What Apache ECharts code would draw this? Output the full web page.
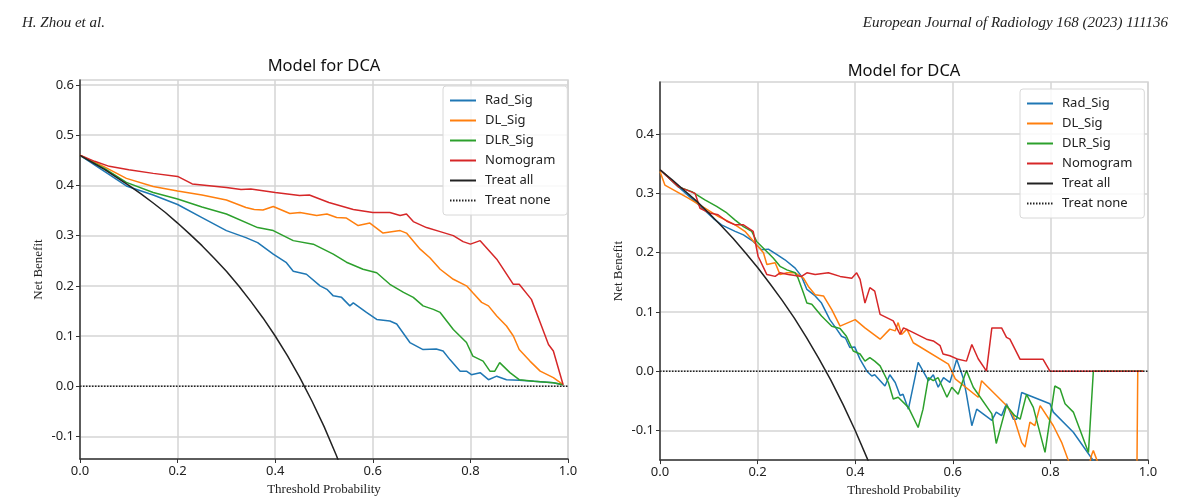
<!DOCTYPE html>
<html>
<head>
    <meta charset="utf-8">
    <title>Model for DCA</title>
    <script src="https://cdn.jsdelivr.net/npm/echarts@6/dist/echarts.min.js"></script>
    <style>
        html, body { margin: 0; padding: 0; background: #fff; }
    </style>
</head>
<body>
<div id="chart-container" style="width: 1192px; height: 502px;"></div>
<script>
    // 名称
    var seriesNames = ['Rad_Sig', 'DL_Sig', 'DLR_Sig', 'Nomogram', 'Treat all', 'Treat none'];
    var colors = ['#1f77b4', '#ff7f0e', '#2ca02c', '#d62728', '#222222', '#222222'];

    // 坐标刻度
    var xTicks = [0, 0.2, 0.4, 0.6, 0.8, 1.0];
    var leftYTicks = [-0.1, 0, 0.1, 0.2, 0.3, 0.4, 0.5, 0.6];
    var rightYTicks = [-0.1, 0, 0.1, 0.2, 0.3, 0.4];

    // 左图 (阈值, 净获益)
    var leftRadT = [0, 0.05, 0.095, 0.15, 0.2, 0.25, 0.3, 0.34, 0.364, 0.396, 0.423, 0.437, 0.464, 0.492, 0.506, 0.519, 0.536, 0.553, 0.56, 0.587, 0.608, 0.635, 0.649, 0.676, 0.703, 0.73, 0.744, 0.758, 0.779, 0.792, 0.802, 0.82, 0.837, 0.854, 0.874, 0.9, 0.93, 0.97, 0.99];
    var leftRadNB = [0.46, 0.428, 0.399, 0.381, 0.362, 0.336, 0.310, 0.296, 0.286, 0.263, 0.246, 0.229, 0.223, 0.200, 0.193, 0.180, 0.177, 0.160, 0.166, 0.147, 0.133, 0.130, 0.124, 0.087, 0.073, 0.074, 0.070, 0.053, 0.030, 0.030, 0.023, 0.027, 0.013, 0.020, 0.013, 0.012, 0.010, 0.007, 0.003];

    var leftDlT = [0, 0.05, 0.095, 0.15, 0.2, 0.25, 0.3, 0.34, 0.357, 0.375, 0.396, 0.43, 0.451, 0.485, 0.506, 0.526, 0.546, 0.57, 0.594, 0.621, 0.656, 0.669, 0.697, 0.717, 0.738, 0.765, 0.792, 0.805, 0.823, 0.837, 0.854, 0.874, 0.888, 0.9, 0.922, 0.943, 0.97, 0.99];
    var leftDlNB = [0.46, 0.437, 0.414, 0.398, 0.389, 0.381, 0.371, 0.356, 0.352, 0.351, 0.358, 0.344, 0.346, 0.340, 0.343, 0.336, 0.335, 0.320, 0.325, 0.305, 0.310, 0.305, 0.273, 0.256, 0.233, 0.213, 0.200, 0.186, 0.167, 0.160, 0.140, 0.120, 0.100, 0.073, 0.050, 0.030, 0.017, 0.003];

    var leftDlrT = [0, 0.05, 0.095, 0.15, 0.2, 0.25, 0.3, 0.364, 0.396, 0.437, 0.478, 0.519, 0.546, 0.58, 0.608, 0.635, 0.663, 0.683, 0.703, 0.724, 0.738, 0.765, 0.792, 0.805, 0.826, 0.84, 0.85, 0.86, 0.881, 0.9, 0.93, 0.97, 0.99];
    var leftDlrNB = [0.46, 0.434, 0.406, 0.386, 0.373, 0.357, 0.343, 0.316, 0.310, 0.290, 0.283, 0.263, 0.247, 0.233, 0.226, 0.203, 0.187, 0.177, 0.160, 0.153, 0.147, 0.113, 0.087, 0.060, 0.050, 0.030, 0.030, 0.047, 0.027, 0.013, 0.010, 0.007, 0.003];

    var leftNomoT = [0, 0.03, 0.06, 0.1, 0.15, 0.2, 0.23, 0.27, 0.3, 0.33, 0.35, 0.4, 0.45, 0.47, 0.51, 0.56, 0.6, 0.635, 0.656, 0.669, 0.683, 0.71, 0.738, 0.765, 0.785, 0.8, 0.82, 0.854, 0.888, 0.9, 0.925, 0.943, 0.96, 0.97, 0.99];
    var leftNomoNB = [0.46, 0.448, 0.438, 0.431, 0.424, 0.418, 0.403, 0.399, 0.396, 0.392, 0.393, 0.386, 0.380, 0.381, 0.366, 0.352, 0.346, 0.346, 0.340, 0.343, 0.328, 0.316, 0.308, 0.300, 0.288, 0.283, 0.290, 0.253, 0.203, 0.203, 0.173, 0.127, 0.083, 0.070, 0.003];

    var leftAllT = [0, 0.025, 0.05, 0.075, 0.1, 0.125, 0.15, 0.175, 0.2, 0.225, 0.25, 0.275, 0.3, 0.325, 0.35, 0.375, 0.4, 0.425, 0.45, 0.475, 0.5, 0.525, 0.55];
    var leftAllNB = [0.46, 0.446, 0.432, 0.416, 0.40, 0.383, 0.365, 0.346, 0.325, 0.303, 0.28, 0.255, 0.229, 0.200, 0.169, 0.136, 0.10, 0.061, 0.018, -0.029, -0.08, -0.137, -0.2];

    // 右图 (阈值, 净获益)
    var rightRadT = [0, 0.038, 0.079, 0.109, 0.126, 0.154, 0.171, 0.191, 0.208, 0.222, 0.239, 0.256, 0.277, 0.29, 0.301, 0.318, 0.331, 0.348, 0.362, 0.372, 0.38, 0.389, 0.399, 0.41, 0.424, 0.434, 0.44, 0.461, 0.471, 0.482, 0.492, 0.498, 0.509, 0.529, 0.55, 0.56, 0.57, 0.581, 0.594, 0.608, 0.622, 0.628, 0.639, 0.649, 0.68, 0.689, 0.70, 0.71, 0.724, 0.731, 0.741, 0.799, 0.806, 0.847, 0.888, 0.9];
    var rightRadNB = [0.34, 0.311, 0.281, 0.258, 0.247, 0.236, 0.230, 0.219, 0.205, 0.206, 0.197, 0.188, 0.174, 0.160, 0.138, 0.127, 0.115, 0.087, 0.071, 0.059, 0.056, 0.040, 0.041, 0.020, 0.0, -0.008, -0.006, -0.025, -0.006, -0.019, -0.041, -0.039, -0.064, 0.015, -0.016, -0.006, -0.027, -0.011, -0.019, 0.020, -0.013, -0.039, -0.092, -0.064, -0.083, -0.069, -0.075, -0.055, -0.081, -0.081, -0.036, -0.055, -0.069, -0.103, -0.151, -0.17];

    var rightDlT = [0, 0.010, 0.058, 0.092, 0.12, 0.154, 0.174, 0.195, 0.212, 0.219, 0.236, 0.246, 0.26, 0.277, 0.294, 0.304, 0.318, 0.335, 0.352, 0.369, 0.40, 0.42, 0.451, 0.471, 0.482, 0.488, 0.495, 0.506, 0.519, 0.591, 0.605, 0.652, 0.659, 0.71, 0.724, 0.741, 0.748, 0.758, 0.768, 0.779, 0.806, 0.823, 0.837, 0.86, 0.885, 0.888, 0.9, 0.94, 0.975, 0.979, 0.99];
    var rightDlNB = [0.337, 0.314, 0.292, 0.275, 0.261, 0.247, 0.236, 0.216, 0.200, 0.180, 0.183, 0.163, 0.166, 0.166, 0.157, 0.143, 0.129, 0.127, 0.104, 0.076, 0.087, 0.073, 0.054, 0.071, 0.068, 0.082, 0.062, 0.071, 0.048, 0.012, -0.013, -0.044, -0.016, -0.058, -0.075, -0.120, -0.128, -0.086, -0.092, -0.058, -0.092, -0.120, -0.151, -0.22, -0.14, -0.134, -0.16, -0.3, -0.4, 0.0, 0.0];

    var rightDlrT = [0, 0.038, 0.065, 0.092, 0.116, 0.137, 0.154, 0.171, 0.188, 0.198, 0.215, 0.232, 0.246, 0.26, 0.277, 0.283, 0.294, 0.301, 0.311, 0.331, 0.352, 0.369, 0.382, 0.396, 0.41, 0.42, 0.43, 0.44, 0.451, 0.468, 0.478, 0.488, 0.509, 0.529, 0.539, 0.55, 0.56, 0.57, 0.588, 0.598, 0.611, 0.628, 0.642, 0.68, 0.689, 0.71, 0.727, 0.738, 0.751, 0.765, 0.789, 0.809, 0.82, 0.83, 0.847, 0.878, 0.888, 0.99];
    var rightDlrNB = [0.34, 0.311, 0.303, 0.289, 0.278, 0.267, 0.255, 0.244, 0.236, 0.219, 0.205, 0.191, 0.177, 0.171, 0.166, 0.157, 0.132, 0.115, 0.113, 0.093, 0.076, 0.072, 0.059, 0.034, 0.029, 0.017, 0.023, 0.017, 0.009, -0.019, -0.047, -0.044, -0.061, -0.095, -0.064, -0.011, -0.016, -0.011, -0.044, -0.027, -0.039, 0.001, -0.027, -0.072, -0.122, -0.058, -0.075, -0.081, -0.039, -0.061, -0.137, -0.025, -0.030, -0.055, -0.069, -0.137, 0.0, 0.0];

    var rightNomoT = [0, 0.038, 0.072, 0.082, 0.102, 0.119, 0.137, 0.154, 0.171, 0.191, 0.201, 0.219, 0.236, 0.246, 0.263, 0.29, 0.301, 0.318, 0.345, 0.369, 0.393, 0.403, 0.41, 0.42, 0.43, 0.44, 0.451, 0.478, 0.492, 0.499, 0.512, 0.546, 0.56, 0.574, 0.58, 0.594, 0.611, 0.628, 0.639, 0.652, 0.656, 0.669, 0.68, 0.70, 0.71, 0.717, 0.738, 0.785, 0.799, 0.99];
    var rightNomoNB = [0.34, 0.311, 0.300, 0.275, 0.267, 0.264, 0.253, 0.247, 0.247, 0.236, 0.194, 0.163, 0.160, 0.166, 0.163, 0.160, 0.166, 0.163, 0.166, 0.160, 0.157, 0.166, 0.155, 0.115, 0.141, 0.135, 0.096, 0.085, 0.062, 0.073, 0.068, 0.054, 0.051, 0.043, 0.029, 0.026, 0.020, 0.017, 0.045, 0.021, 0.020, 0.0, 0.073, 0.073, 0.057, 0.054, 0.020, 0.020, 0.0, 0.0];

    var rightAllT = [0, 0.025, 0.05, 0.075, 0.1, 0.125, 0.15, 0.175, 0.2, 0.225, 0.25, 0.275, 0.3, 0.325, 0.35, 0.375, 0.4, 0.425, 0.45];
    var rightAllNB = [0.34, 0.323, 0.305, 0.287, 0.267, 0.246, 0.224, 0.200, 0.175, 0.148, 0.12, 0.090, 0.057, 0.022, -0.015, -0.056, -0.10, -0.148, -0.2];

    var noneT = [0, 1];
    var noneNB = [0, 0];

    function zip(t, v) {
        return t.map(function (x, i) { return [x, v[i]]; });
    }

    function oneDecimal(v) {
        var s = Number(v).toFixed(1);
        return s === '-0.0' ? '0.0' : s;
    }

    var tickFont = { fontFamily: 'Noto Sans', fontSize: 13, color: '#222' };
    var nameFont = { fontFamily: 'Liberation Serif', fontSize: 13, color: '#222' };

    function makeX(idx) {
        return {
            type: 'value', gridIndex: idx, min: 0, max: 1, interval: 0.2,
            name: 'Threshold Probability', nameLocation: 'middle', nameGap: 22,
            nameTextStyle: nameFont,
            axisLine: { show: true, onZero: false, lineStyle: { color: '#333', width: 1.5 } },
            axisTick: { show: true, length: 4, lineStyle: { color: '#333' } },
            axisLabel: Object.assign({ margin: 6, formatter: oneDecimal }, tickFont),
            splitLine: { show: true, lineStyle: { color: '#d4d4d4', width: 1.5 } }
        };
    }

    function makeY(idx, min, max, ticks) {
        return {
            type: 'value', gridIndex: idx, min: min, max: max,
            name: 'Net Benefit', nameLocation: 'middle', nameGap: 35,
            nameTextStyle: nameFont,
            axisLine: { show: true, onZero: false, lineStyle: { color: '#333', width: 1.5 } },
            axisTick: { show: true, length: 4, customValues: ticks, lineStyle: { color: '#333' } },
            axisLabel: Object.assign({ margin: 6, customValues: ticks, formatter: oneDecimal }, tickFont),
            splitLine: { show: true, lineStyle: { color: '#d4d4d4', width: 1.5 } }
        };
    }

    function line(name, color, idx, data, dotted) {
        return {
            name: name, type: 'line', xAxisIndex: idx, yAxisIndex: idx,
            data: data, symbol: 'none', showSymbol: false, silent: true,
            clip: true, animation: false,
            lineStyle: { color: color, width: 1.5, type: dotted ? [1.5, 1.5] : 'solid' },
            itemStyle: { color: color }
        };
    }

    function legendAt(left, top) {
        return {
            orient: 'vertical', left: left, top: top,
            data: seriesNames, selectedMode: false,
            itemWidth: 26, itemHeight: 12, itemGap: 7,
            padding: [8, 12, 8, 6],
            itemStyle: { opacity: 0 },
            backgroundColor: 'rgba(255,255,255,0.85)',
            borderColor: '#d8d8d8', borderWidth: 1, borderRadius: 3,
            textStyle: { fontFamily: 'Noto Sans', fontSize: 13, color: '#222', padding: [0, 0, 0, 4] }
        };
    }

    var option = {
        animation: false,
        title: [
            { text: 'Model for DCA', left: 324, top: 58, textAlign: 'center', padding: 0,
              textStyle: { fontFamily: 'Noto Sans', fontSize: 16.5, fontWeight: 'normal', color: '#111' } },
            { text: 'Model for DCA', left: 904, top: 63, textAlign: 'center', padding: 0,
              textStyle: { fontFamily: 'Noto Sans', fontSize: 16.5, fontWeight: 'normal', color: '#111' } }
        ],
        graphic: [
            { type: 'text', left: 22, top: 16,
              style: { text: 'H. Zhou et al.', font: 'italic 15px "Liberation Serif"', fill: '#222' } },
            { type: 'text', right: 24, top: 16,
              style: { text: 'European Journal of Radiology 168 (2023) 111136', font: 'italic 15px "Liberation Serif"', fill: '#222' } }
        ],
        legend: [legendAt(443, 86), legendAt(1020, 89)],
        grid: [
            { left: 80, top: 80, width: 488, height: 379, show: true, borderColor: '#d4d4d4', borderWidth: 1.5, backgroundColor: '#fff' },
            { left: 660, top: 82, width: 488, height: 379, show: true, borderColor: '#d4d4d4', borderWidth: 1.5, backgroundColor: '#fff' }
        ],
        xAxis: [makeX(0), makeX(1)],
        yAxis: [makeY(0, -0.145, 0.61, leftYTicks), makeY(1, -0.15, 0.488, rightYTicks)],
        series: [
            line('Rad_Sig', colors[0], 0, zip(leftRadT, leftRadNB)),
            line('DL_Sig', colors[1], 0, zip(leftDlT, leftDlNB)),
            line('DLR_Sig', colors[2], 0, zip(leftDlrT, leftDlrNB)),
            line('Nomogram', colors[3], 0, zip(leftNomoT, leftNomoNB)),
            line('Treat all', colors[4], 0, zip(leftAllT, leftAllNB)),
            line('Treat none', colors[5], 0, zip(noneT, noneNB), true),
            line('Rad_Sig', colors[0], 1, zip(rightRadT, rightRadNB)),
            line('DL_Sig', colors[1], 1, zip(rightDlT, rightDlNB)),
            line('DLR_Sig', colors[2], 1, zip(rightDlrT, rightDlrNB)),
            line('Nomogram', colors[3], 1, zip(rightNomoT, rightNomoNB)),
            line('Treat all', colors[4], 1, zip(rightAllT, rightAllNB)),
            line('Treat none', colors[5], 1, zip(noneT, noneNB), true)
        ]
    };

    var chart = echarts.init(document.getElementById('chart-container'));
    chart.setOption(option);
</script>
</body>
</html>
